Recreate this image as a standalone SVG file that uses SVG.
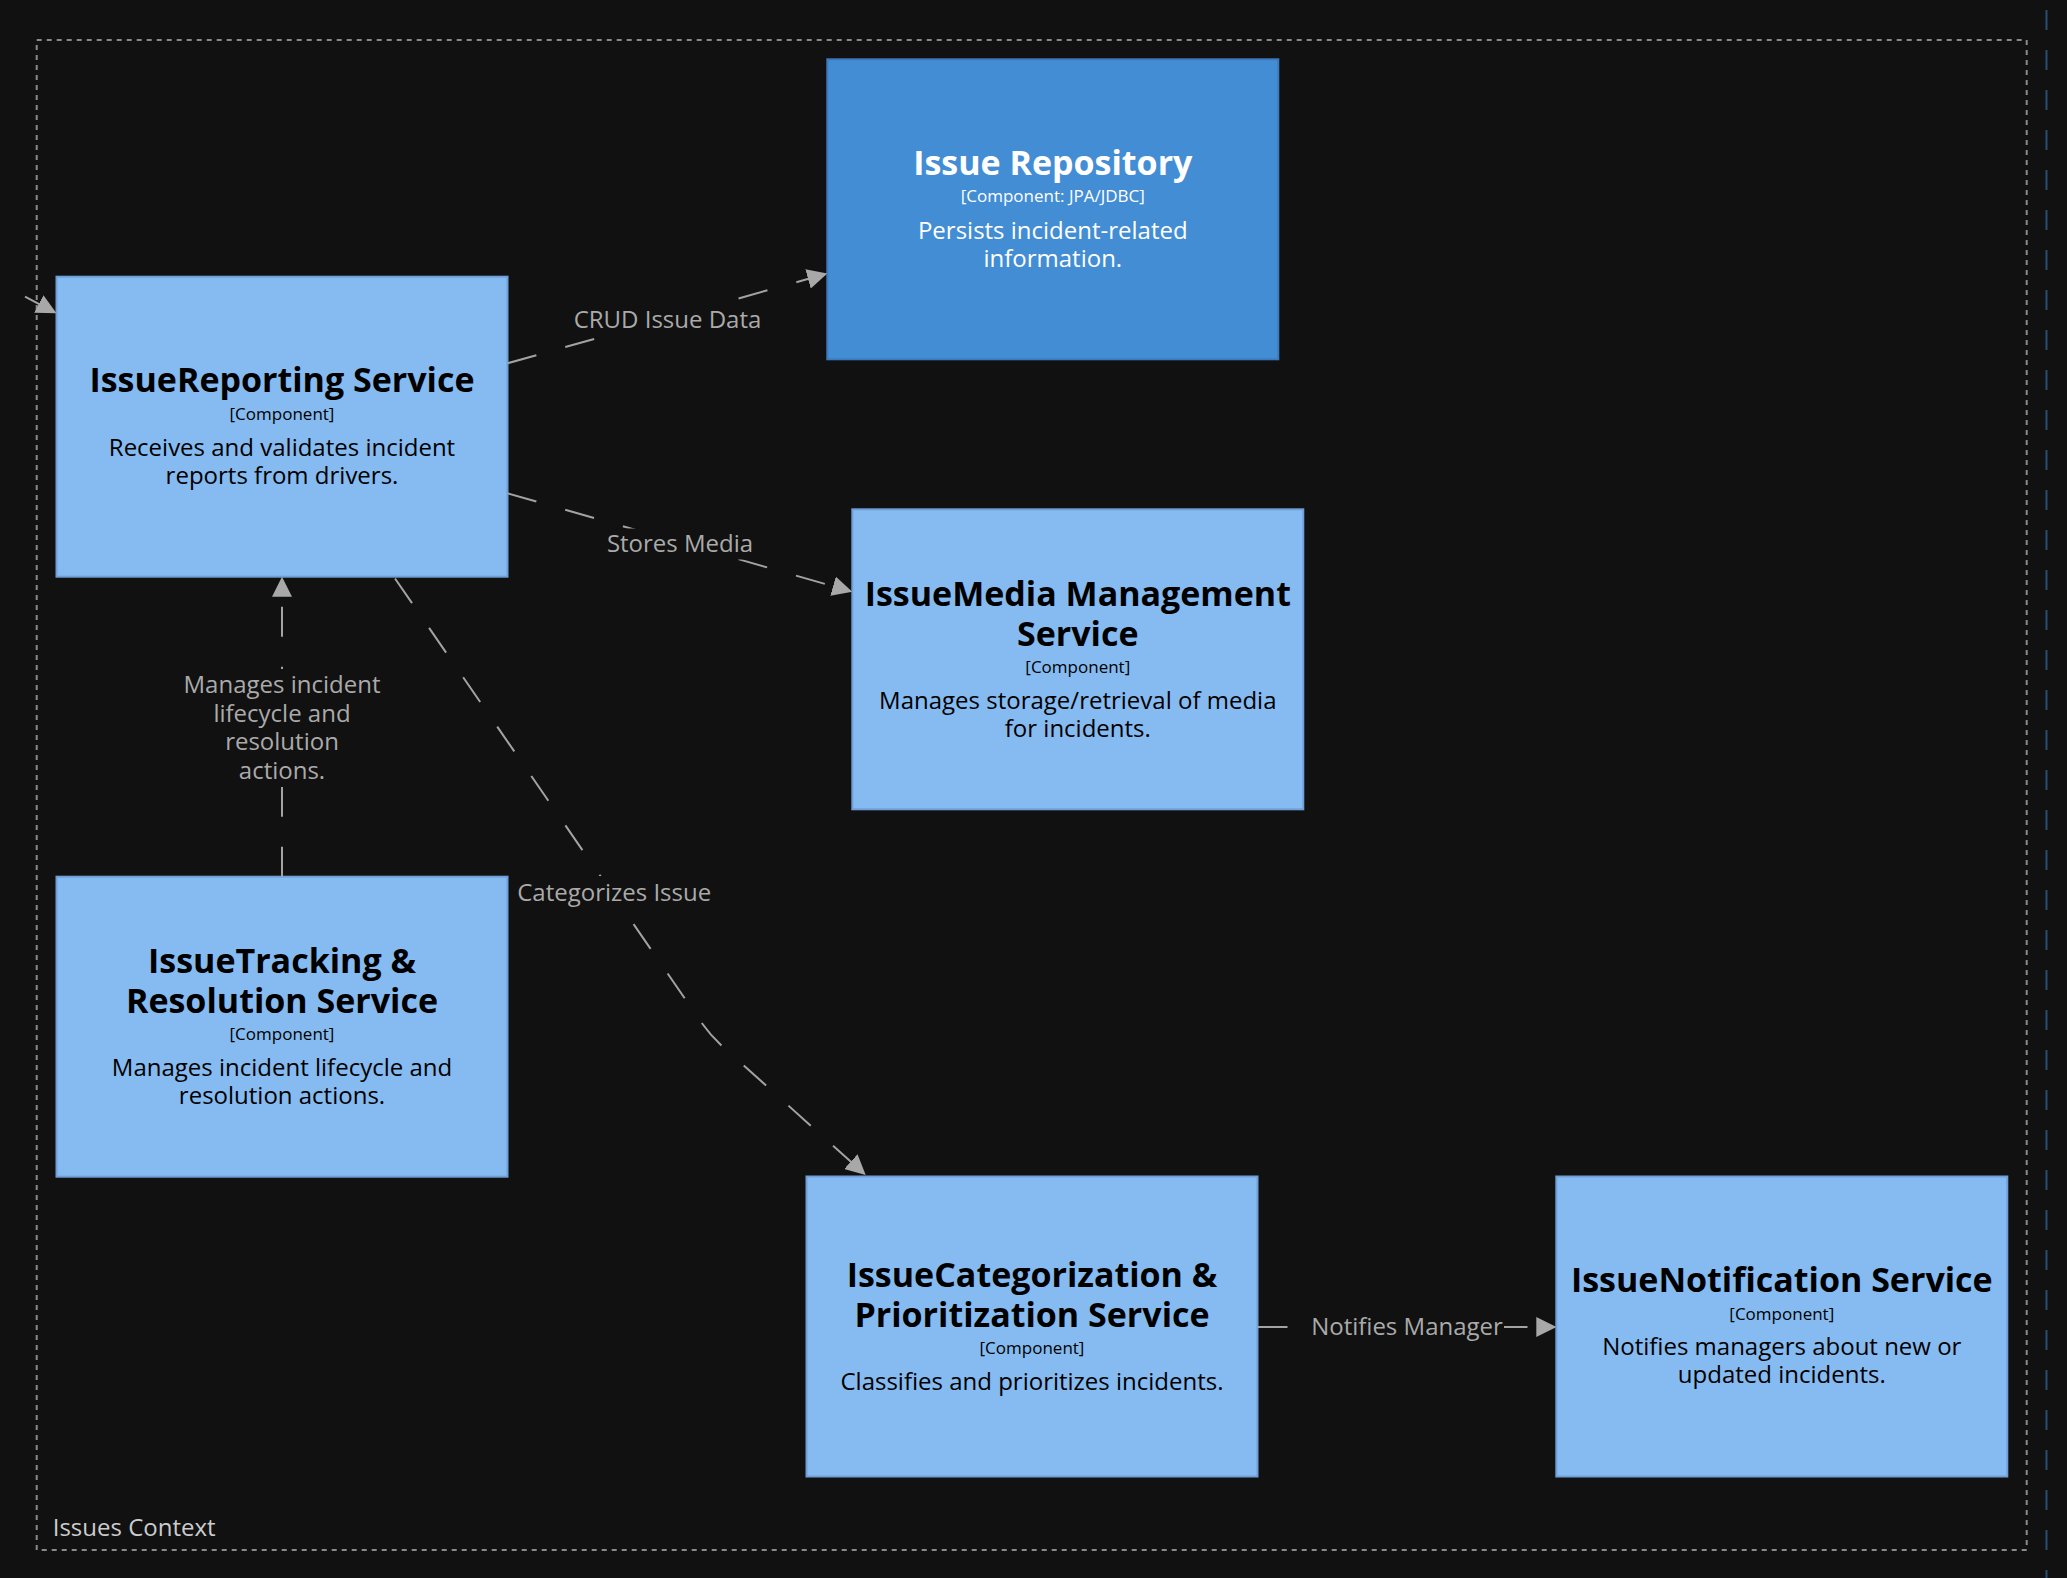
<svg xmlns="http://www.w3.org/2000/svg" width="2067" height="1578" viewBox="0 0 2067 1578">
  <style>
    .box { fill: #85bbf0; stroke: #6f9fd6; stroke-width: 2; }
    .box-db { fill: #438dd5; stroke: #3b7bbd; stroke-width: 2; }
    text { font-family: "Open Sans", "Noto Sans", "Liberation Sans", sans-serif; text-anchor: middle; }
    .title { font-size: 34px; font-weight: bold; fill: #000000; }
    .meta { font-size: 17px; fill: #000000; }
    .desc { font-size: 24px; fill: #000000; }
    .light { fill: #ffffff; }
    .conn { fill: none; stroke: #a3a3a3; stroke-width: 2; stroke-dasharray: 30 30; marker-end: url(#arrow); }
    .lbl-bg { fill: #111111; }
    .lbl { font-size: 24px; fill: #aaaaaa; }
    .boundary { fill: none; stroke: #8a8a8a; stroke-width: 2; stroke-dasharray: 5 5; }
    .boundary-name { font-size: 24px; fill: #cccccc; text-anchor: start; }
    .page-edge { stroke: #2a4d70; stroke-width: 2; stroke-dasharray: 20 20; stroke-dashoffset: 30; }
  </style>
  <defs>
    <marker id="arrow" markerUnits="userSpaceOnUse" viewBox="0 0 20 20" markerWidth="20" markerHeight="20" refX="20" refY="10" orient="auto">
      <path d="M0,0 L20,10 L0,20 z" fill="#a8a8a8"/>
    </marker>
  </defs>

  <rect x="0" y="0" width="2067" height="1578" fill="#111111"/>

  <!-- page edge -->
  <line class="page-edge" x1="2046.5" y1="0" x2="2046.5" y2="1578"/>

  <!-- boundary: Issues Context -->
  <g id="issues-context">
    <rect class="boundary" x="36.7" y="40" width="1990" height="1510"/>
    <text class="boundary-name" x="52.7" y="1536">Issues Context</text>
  </g>

  <!-- components -->
  <g id="issue-reporting-service">
    <rect class="box" x="56.5" y="276.7" width="451" height="300"/>
    <text class="title" x="282" y="392.2">IssueReporting Service</text>
    <text class="meta" x="282" y="419.7">[Component]</text>
    <text class="desc" x="282" y="456.2">Receives and validates incident</text>
    <text class="desc" x="282" y="484.2">reports from drivers.</text>
  </g>

  <g id="issue-repository">
    <rect class="box-db" x="827.3" y="59.3" width="451" height="300"/>
    <text class="title light" x="1052.8" y="174.8">Issue Repository</text>
    <text class="meta light" x="1052.8" y="202.3">[Component: JPA/JDBC]</text>
    <text class="desc light" x="1052.8" y="238.8">Persists incident-related</text>
    <text class="desc light" x="1052.8" y="266.8">information.</text>
  </g>

  <g id="issue-media-management-service">
    <rect class="box" x="852.3" y="509.3" width="451" height="300"/>
    <text class="title" x="1077.8" y="605.5">IssueMedia Management</text>
    <text class="title" x="1077.8" y="645.5">Service</text>
    <text class="meta" x="1077.8" y="672.5">[Component]</text>
    <text class="desc" x="1077.8" y="708.8">Manages storage/retrieval of media</text>
    <text class="desc" x="1077.8" y="736.8">for incidents.</text>
  </g>

  <g id="issue-tracking-resolution-service">
    <rect class="box" x="56.5" y="876.7" width="451" height="300"/>
    <text class="title" x="282" y="973">IssueTracking &amp;</text>
    <text class="title" x="282" y="1013">Resolution Service</text>
    <text class="meta" x="282" y="1040">[Component]</text>
    <text class="desc" x="282" y="1076">Manages incident lifecycle and</text>
    <text class="desc" x="282" y="1104">resolution actions.</text>
  </g>

  <g id="issue-categorization-prioritization-service">
    <rect class="box" x="806.5" y="1176.5" width="451" height="300"/>
    <text class="title" x="1032" y="1286.5">IssueCategorization &amp;</text>
    <text class="title" x="1032" y="1326.5">Prioritization Service</text>
    <text class="meta" x="1032" y="1354">[Component]</text>
    <text class="desc" x="1032" y="1389.5">Classifies and prioritizes incidents.</text>
  </g>

  <g id="issue-notification-service">
    <rect class="box" x="1556.3" y="1176.5" width="451" height="300"/>
    <text class="title" x="1781.8" y="1292">IssueNotification Service</text>
    <text class="meta" x="1781.8" y="1320">[Component]</text>
    <text class="desc" x="1781.8" y="1354.5">Notifies managers about new or</text>
    <text class="desc" x="1781.8" y="1382.5">updated incidents.</text>
  </g>

  <!-- relationships -->
  <g id="connectors">
    <!-- incoming from outside the view -->
    <path class="conn" d="M25,296.7 L56.5,313.3"/>

    <path class="conn" d="M507.5,363.3 L827.3,273.5"/>
    <rect class="lbl-bg" x="571.5" y="304" width="192" height="32"/>
    <text class="lbl" x="667.5" y="328">CRUD Issue Data</text>

    <path class="conn" d="M507.5,493.3 L852.3,591.7"/>
    <rect class="lbl-bg" x="603.5" y="528.5" width="153" height="31"/>
    <text class="lbl" x="680" y="552.3">Stores Media</text>

    <path class="conn" d="M395,578.5 L699,1019 Q709,1034 722,1046 L865.7,1175"/>
    <rect class="lbl-bg" x="513" y="876" width="202" height="33"/>
    <text class="lbl" x="614.2" y="901">Categorizes Issue</text>

    <path class="conn" d="M282,876.7 L282,576.7"/>
    <rect class="lbl-bg" x="180" y="669" width="204" height="118"/>
    <text class="lbl" x="282" y="693">Manages incident</text>
    <text class="lbl" x="282" y="721.5">lifecycle and</text>
    <text class="lbl" x="282" y="750">resolution</text>
    <text class="lbl" x="282" y="778.5">actions.</text>

    <path class="conn" d="M1257.5,1327 L1556.3,1327"/>
    <rect class="lbl-bg" x="1310" y="1311" width="194" height="32"/>
    <text class="lbl" x="1407" y="1335">Notifies Manager</text>
  </g>
</svg>
